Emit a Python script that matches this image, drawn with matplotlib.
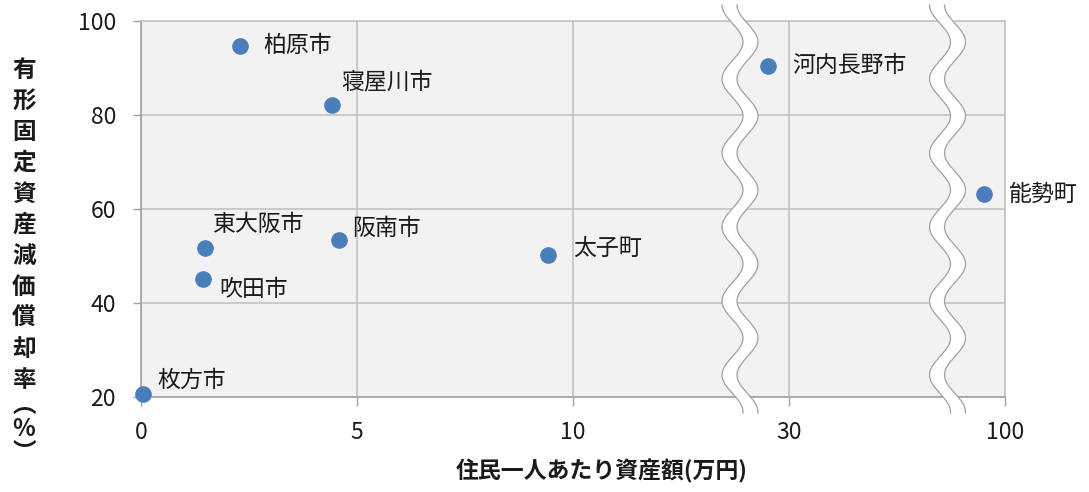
import numpy as np
import matplotlib
matplotlib.use("Agg")
import matplotlib.pyplot as plt

plt.rcParams['font.family'] = ['Noto Sans CJK JP', 'DejaVu Sans']

# ---- data ----
names = ['枚方市', '柏原市', '寝屋川市', '東大阪市', '吹田市', '阪南市', '太子町', '河内長野市', '能勢町']
# position on the broken x axis (0-10 linear, then 30 at 15, 100 at 20)
x_pos = [0.04, 2.29, 4.42, 1.47, 1.44, 4.58, 9.42, 14.51, 19.51]
y_vals = [20.6, 94.7, 82.1, 51.8, 45.2, 53.3, 50.2, 90.5, 63.1]
x_tick_pos = [0, 5, 10, 15, 20]
x_tick_labels = ['0', '5', '10', '30', '100']
y_ticks = [20, 40, 60, 80, 100]
x_title = '住民一人あたり資産額(万円)'
y_title_chars = list('有形固定資産減価償却率')
y_title_tail = '︵\n%\n︶'

# label offsets in pixels (dx, dy; dy positive = up)
offsets = [(15, 14), (23, 0), (9, 23), (8, 23), (16, -11), (13, 12), (25, 7), (24, 0), (24, 0)]

W, H = 1089, 492
fig = plt.figure(figsize=(W / 100, H / 100), dpi=100)
ax = fig.add_axes([141 / W, (H - 397) / H, 864 / W, 376 / H])
ax.set_facecolor('#f2f2f2')
ax.set_xlim(0, 20)
ax.set_ylim(20, 100)

grid_c = '#c3c3c3'
ax.set_xticks(x_tick_pos)
ax.set_xticklabels(x_tick_labels)
ax.set_yticks(y_ticks)
ax.grid(True, color=grid_c, linewidth=1.2, zorder=0)
ax.set_axisbelow(True)
for s in ['top', 'right']:
    ax.spines[s].set_color(grid_c)
    ax.spines[s].set_linewidth(1.2)
for s in ['left', 'bottom']:
    ax.spines[s].set_color('#a0a0a0')
    ax.spines[s].set_linewidth(1.2)
ax.tick_params(axis='y', length=6, width=1.0, color='#a0a0a0', pad=12,
               labelsize=16.5, labelcolor='#1a1a1a')
ax.tick_params(axis='x', length=6.5, width=1.0, color='#a0a0a0', pad=11,
               labelsize=16.5, labelcolor='#1a1a1a')

ax.scatter(x_pos, y_vals, s=120, color='#4a7ebb', edgecolor='#4a7ebb', zorder=5, clip_on=False)
for n, xv, yv, (dx, dy) in zip(names, x_pos, y_vals, offsets):
    ax.annotate(n, (xv, yv), xytext=(dx, dy), textcoords='offset pixels',
                ha='left', va='center', fontsize=16.5, color='#1a1a1a', zorder=6,
                annotation_clip=False)

# ---- wavy axis break bands ----
px_x = 864 / 20.0
px_y = 376 / 80.0
y_top = 100 + 16 / px_y
y_bot = 20 - 16 / px_y
yy = np.linspace(y_bot, y_top, 600)
period = 74 / px_y
amp = 10.5 / px_x
half = 7.5 / px_x
for c in [(740 - 141) / px_x, (947.5 - 141) / px_x]:
    off = -amp * np.cos(2 * np.pi * (y_top - yy) / period)
    left = c - half + off
    right = c + half + off
    ax.fill(np.concatenate([left, right[::-1]]), np.concatenate([yy, yy[::-1]]),
            color='white', zorder=3, clip_on=False, linewidth=0)
    ax.plot(left, yy, color='#a0a0a0', lw=0.9, zorder=3.5, clip_on=False)
    ax.plot(right, yy, color='#a0a0a0', lw=0.9, zorder=3.5, clip_on=False)

# ---- axis titles ----
fig.text(602 / W, 1 - 471 / H, x_title, ha='center', va='center', fontsize=16.5,
         fontweight='bold', color='#1a1a1a')
ys = [70 + 31 * i for i in range(11)]
for ch, yp in zip(y_title_chars, ys):
    fig.text(24 / W, 1 - yp / H, ch, ha='center', va='center', fontsize=17,
             fontweight='bold', color='#1a1a1a')
fig.text(24 / W, 1 - 393 / H, y_title_tail, ha='center', va='top', fontsize=17,
         fontweight='bold', color='#1a1a1a', linespacing=1.0)

fig.savefig('out.png', dpi=100)
